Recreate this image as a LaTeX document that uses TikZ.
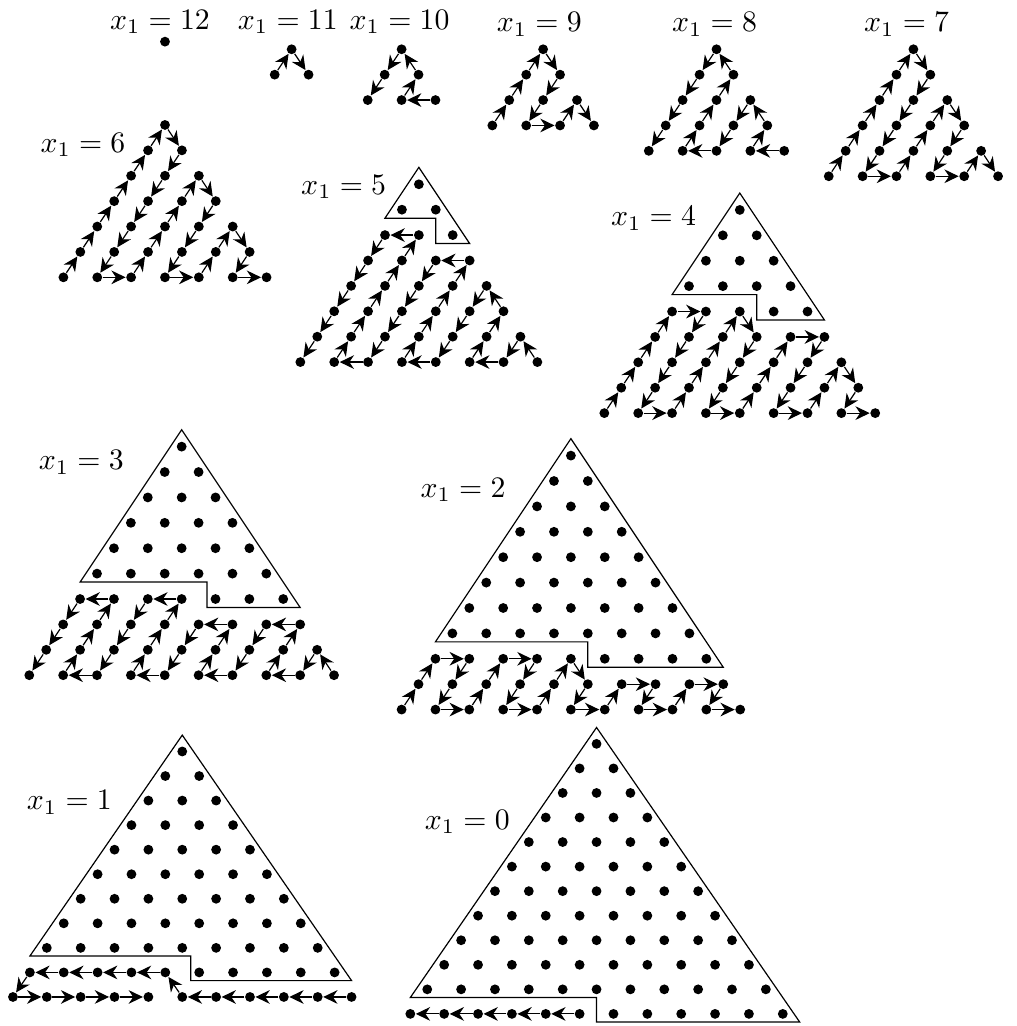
\documentclass[tikz,border=0pt]{standalone}
\usepackage{amsmath}
\usepackage{tikz}
\usetikzlibrary{arrows.meta,calc}

% triangle of dots: #1 name, #2 rows, (#3,#4) top dot, #5 row height
\newcommand{\dotgrid}[5]{%
  \pgfmathtruncatemacro{\lastrow}{#2-1}
  \foreach \rr in {0,...,\lastrow}
    \foreach \cc in {0,...,\rr}
      \node[dot] (t#1-\rr-\cc) at ({#3+(2*\cc-\rr)*0.2},{#4-\rr*#5}) {};
}
% arrows along a list of dots: #1 name, #2 first dot, #3 the rest
\newcommand{\tour}[3]{%
  \foreach \p [remember=\p as \q (initially #2)] in {#3}
    \draw[arr] (t#1-\q) -- (t#1-\p);
}
% outline of the top part: #1 name, #2 last full row, #3 cut row,
% #4 first dot kept in cut row, #5 row height, #6 shift of the step
\newcommand{\hull}[6]{%
  \draw ($(t#1-0-0)+(0,2*#5/3)$) -- ($(t#1-#3-#3)+(0.2,-#5/3)$)
    -- ($(t#1-#3-#4)+(-0.2+#6,-#5/3)$) -- ++(0,#5)
    -- ($(t#1-#2-0)+(-0.2,-#5/3)$) -- cycle;
}

\begin{document}
\begin{tikzpicture}[
    dot/.style={circle,fill,inner sep=0pt,minimum size=3.3pt},
    arr/.style={-{Stealth[length=4.8pt,width=4.6pt]}}]
  \useasboundingbox (0,0) rectangle (12.01,-12.12);
  % Labels
  \node (l12) at (1.89,-0.26) {$x_1 = 12$};
  \node (l11) at (3.40,-0.26) {$x_1 = 11$};
  \node (l10) at (4.72,-0.26) {$x_1 = 10$};
  \node (l9) at (6.37,-0.29) {$x_1 = 9$};
  \node (l8) at (8.44,-0.29) {$x_1 = 8$};
  \node (l7) at (10.71,-0.29) {$x_1 = 7$};
  \node (l6) at (0.98,-1.71) {$x_1 = 6$};
  \node (l5) at (4.06,-2.21) {$x_1 = 5$};
  \node (l4) at (7.72,-2.58) {$x_1 = 4$};
  \node (l3) at (0.96,-5.46) {$x_1 = 3$};
  \node (l2) at (5.47,-5.79) {$x_1 = 2$};
  \node (l1) at (0.82,-9.48) {$x_1 = 1$};
  \node (l0) at (5.52,-9.71) {$x_1 = 0$};
  % Dots
  \dotgrid{12}{1}{1.949}{-0.492}{0.3}
  \dotgrid{11}{2}{3.445}{-0.582}{0.3}
  \dotgrid{10}{3}{4.744}{-0.582}{0.3}
  \dotgrid{9}{4}{6.416}{-0.582}{0.3}
  \dotgrid{8}{5}{8.464}{-0.582}{0.3}
  \dotgrid{7}{6}{10.79}{-0.582}{0.3}
  \dotgrid{6}{7}{1.949}{-1.476}{0.3}
  \dotgrid{5}{8}{4.948}{-2.177}{0.3}
  \dotgrid{4}{9}{8.739}{-2.480}{0.3}
  \dotgrid{3}{10}{2.146}{-5.276}{0.3}
  \dotgrid{2}{11}{6.744}{-5.382}{0.3}
  \dotgrid{1}{11}{2.153}{-8.877}{0.29}
  \dotgrid{0}{12}{7.047}{-8.787}{0.29}
  % Boxed parts
  \hull{5}{1}{2}{2}{0.3}{0}
  \hull{4}{3}{4}{3}{0.3}{0}
  \hull{3}{5}{6}{4}{0.3}{0.1}
  \hull{2}{7}{8}{5}{0.3}{0}
  \hull{1}{8}{9}{5}{0.29}{0.1}
  \hull{0}{10}{11}{6}{0.29}{0}
  % Paths
  \tour{11}{1-0}{0-0,1-1}
  \tour{10}{2-2}{2-1,1-1,0-0,1-0,2-0}
  \tour{9}{3-0}{2-0,1-0,0-0,1-1,2-1,3-1,3-2,2-2,3-3}
  \tour{8}{4-4}{4-3,3-3,2-2,3-2,4-2,4-1,3-1,2-1,1-1,0-0,1-0,2-0,3-0,4-0}
  \tour{7}{5-0}{4-0,3-0,2-0,1-0,0-0,1-1,2-1,3-1,4-1,5-1,5-2,4-2,3-2,2-2,3-3,4-3,5-3,5-4,4-4,5-5}
  \tour{6}{6-0}{5-0,4-0,3-0,2-0,1-0,0-0,1-1,2-1,3-1,4-1,5-1,6-1,6-2,5-2,4-2,3-2,2-2,3-3,4-3,5-3,6-3,6-4,5-4,4-4,5-5,6-5,6-6}
  \tour{5}{7-7}{6-6,7-6,7-5,6-5,5-5,4-4,5-4,6-4,7-4,7-3,6-3,5-3,4-3,3-3,3-2,4-2,5-2,6-2,7-2,7-1,6-1,5-1,4-1,3-1,2-1,2-0,3-0,4-0,5-0,6-0,7-0}
  \tour{4}{8-0}{7-0,6-0,5-0,4-0,4-1,5-1,6-1,7-1,8-1,8-2,7-2,6-2,5-2,4-2,5-3,6-3,7-3,8-3,8-4,7-4,6-4,5-4,5-5,6-5,7-5,8-5,8-6,7-6,6-6,7-7,8-7,8-8}
  \tour{3}{9-9}{8-8,9-8,9-7,8-7,7-7,7-6,8-6,9-6,9-5,8-5,7-5,7-4,8-4,9-4,9-3,8-3,7-3,6-3,6-2,7-2,8-2,9-2,9-1,8-1,7-1,6-1,6-0,7-0,8-0,9-0}
  \tour{2}{10-0}{9-0,8-0,8-1,9-1,10-1,10-2,9-2,8-2,8-3,9-3,10-3,10-4,9-4,8-4,9-5,10-5,10-6,9-6,9-7,10-7,10-8,9-8,9-9,10-9,10-10}
  \tour{1}{10-10}{10-9,10-8,10-7,10-6,10-5,9-4,9-3,9-2,9-1,9-0,10-0,10-1,10-2,10-3,10-4}
  \tour{0}{11-5}{11-4,11-3,11-2,11-1,11-0}
\end{tikzpicture}
\end{document}
